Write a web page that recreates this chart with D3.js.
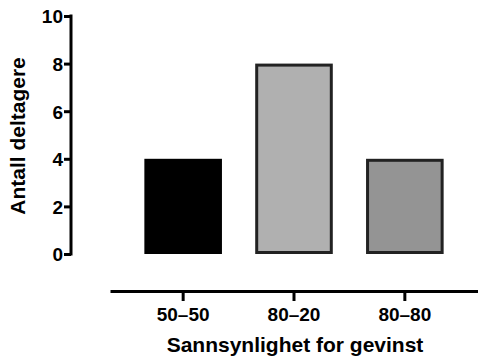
<!DOCTYPE html>
<html>
<head>
<meta charset="utf-8">
<script src="https://cdn.jsdelivr.net/npm/d3@7"></script>
<style>
  body { margin: 0; background: #fff; }
  text { font-family: "Liberation Sans", Arial, sans-serif; font-weight: bold; fill: #000; }
</style>
</head>
<body>
<div id="chart"></div>
<script>
// data
var categories = ["50\u201350", "80\u201320", "80\u201380"];
var counts = [4, 8, 4];
var fills = ["#000000", "#b0b0b0", "#949494"];
var strokes = ["#000000", "#222222", "#222222"];
var yTicks = [0, 2, 4, 6, 8, 10];

var width = 478, height = 359;

var svg = d3.select("#chart").append("svg")
    .attr("width", width)
    .attr("height", height);

var y = d3.scaleLinear().domain([0, 10]).range([254, 16]);
var x = d3.scaleBand().domain(categories).range([110, 478])
    .paddingInner(0.3).paddingOuter(0.31);

// bars
svg.selectAll("rect.bar").data(counts).enter().append("rect")
    .attr("class", "bar")
    .attr("x", function(d, i) { return x(categories[i]) + 1.5; })
    .attr("width", x.bandwidth() - 3)
    .attr("y", function(d) { return y(d) + 1.5; })
    .attr("height", function(d) { return y(0) - y(d) - 3; })
    .attr("fill", function(d, i) { return fills[i]; })
    .attr("stroke", function(d, i) { return strokes[i]; })
    .attr("stroke-width", 3);

// y axis
var yAxis = d3.axisLeft(y).tickValues(yTicks).tickSize(7).tickSizeOuter(0);
var gy = svg.append("g").attr("transform", "translate(71,0)").call(yAxis);
gy.select(".domain").attr("stroke", "#000").attr("stroke-width", 3)
    .attr("d", "M0," + (y(0) + 1.5) + "V" + (y(10) - 1.5));
gy.selectAll(".tick line").attr("stroke", "#000").attr("stroke-width", 3);
gy.selectAll(".tick text").attr("x", -8).attr("dy", "0.36em")
    .style("font-size", "19px");

// x axis
var xAxis = d3.axisBottom(x).tickSize(10).tickSizeOuter(0);
var gx = svg.append("g").attr("transform", "translate(0,291)").call(xAxis);
gx.select(".domain").attr("stroke", "#000").attr("stroke-width", 3);
gx.selectAll(".tick line").attr("stroke", "#000").attr("stroke-width", 3);
gx.selectAll(".tick text").attr("y", 30).attr("dy", "0")
    .style("font-size", "19px");

// axis titles
svg.append("text")
    .attr("x", 295).attr("y", 352)
    .attr("text-anchor", "middle")
    .style("font-size", "21px")
    .text("Sannsynlighet for gevinst");

svg.append("text")
    .attr("transform", "translate(25,136) rotate(-90)")
    .attr("text-anchor", "middle")
    .style("font-size", "21px")
    .text("Antall deltagere");
</script>
</body>
</html>
